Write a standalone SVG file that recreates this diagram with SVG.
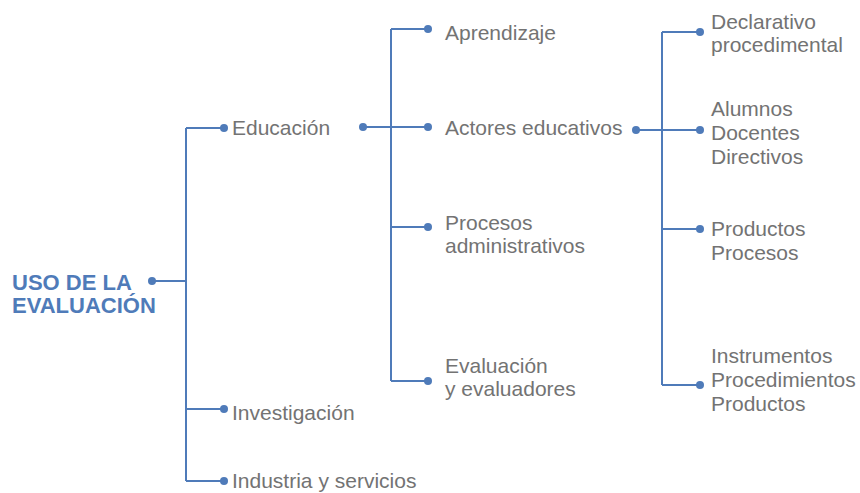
<svg xmlns="http://www.w3.org/2000/svg" width="860" height="493" viewBox="0 0 860 493">
<style>
.c{fill:none;stroke:#4f7bb9;stroke-width:2}
.d{fill:#4f7bb9}
.t{font-family:"Liberation Sans",Arial,sans-serif;font-size:21px;fill:#737373}
.r{font-family:"Liberation Sans",Arial,sans-serif;font-size:22px;font-weight:bold;fill:#4f7bb9}
</style>
<rect width="860" height="493" fill="#fff"/>
<g id="connectors">
<path class="c" d="M152 281H186M186 128V481M186 128H224M186 409H224M186 481H224"/>
<path class="c" d="M363 127H428M391 29V381M391 29H428M391 227H428M391 381H428"/>
<path class="c" d="M636 130H700M662 32V385M662 32H700M662 229H700M662 385H700"/>
<circle class="d" cx="152" cy="281" r="4"/>
<circle class="d" cx="224" cy="128" r="4"/>
<circle class="d" cx="224" cy="409" r="4"/>
<circle class="d" cx="224" cy="481" r="4"/>
<circle class="d" cx="363" cy="127" r="4"/>
<circle class="d" cx="428" cy="29" r="4"/>
<circle class="d" cx="428" cy="127" r="4"/>
<circle class="d" cx="428" cy="227" r="4"/>
<circle class="d" cx="428" cy="381" r="4"/>
<circle class="d" cx="636" cy="130" r="4"/>
<circle class="d" cx="700" cy="32" r="4"/>
<circle class="d" cx="700" cy="130" r="4"/>
<circle class="d" cx="700" cy="229" r="4"/>
<circle class="d" cx="700" cy="385" r="4"/>
</g>
<g id="root"><text class="r" x="12" y="290">USO DE LA</text><text class="r" x="12" y="313">EVALUACIÓN</text></g>
<g id="educacion"><text class="t" x="232" y="135">Educación</text></g>
<g id="investigacion"><text class="t" x="232" y="420">Investigación</text></g>
<g id="industria"><text class="t" x="232" y="488">Industria y servicios</text></g>
<g id="aprendizaje"><text class="t" x="445" y="40">Aprendizaje</text></g>
<g id="actores"><text class="t" x="445" y="135">Actores educativos</text></g>
<g id="procesos"><text class="t" x="445" y="230">Procesos</text><text class="t" x="445" y="253">administrativos</text></g>
<g id="evaluacion"><text class="t" x="445" y="373">Evaluación</text><text class="t" x="445" y="396">y evaluadores</text></g>
<g id="declarativo"><text class="t" x="711" y="29">Declarativo</text><text class="t" x="711" y="52">procedimental</text></g>
<g id="alumnos"><text class="t" x="711" y="116">Alumnos</text><text class="t" x="711" y="140">Docentes</text><text class="t" x="711" y="164">Directivos</text></g>
<g id="productos"><text class="t" x="711" y="236">Productos</text><text class="t" x="711" y="260">Procesos</text></g>
<g id="instrumentos"><text class="t" x="711" y="363">Instrumentos</text><text class="t" x="711" y="387">Procedimientos</text><text class="t" x="711" y="411">Productos</text></g>
</svg>
